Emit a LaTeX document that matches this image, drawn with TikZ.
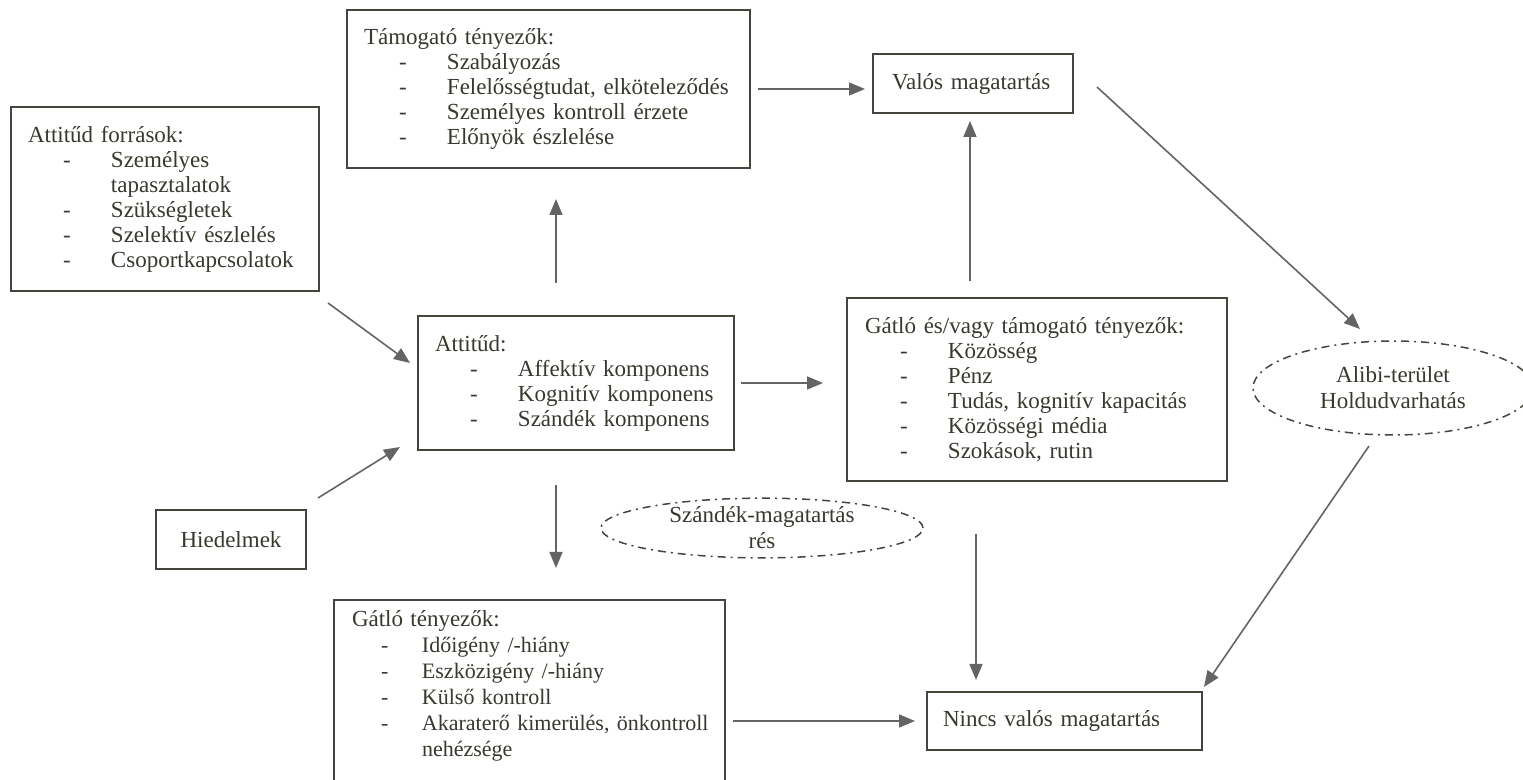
\documentclass[tikz,border=0pt]{standalone}
\usepackage{fontspec}
\setmainfont{Liberation Serif}
\usetikzlibrary{arrows.meta,shapes.geometric}
\definecolor{boxline}{HTML}{45453D}
\definecolor{txt}{HTML}{38382F}
\definecolor{arrline}{HTML}{646464}
\newlength\dashin \setlength\dashin{17.5pt}
\newlength\txtin  \setlength\txtin{41.5pt}
\newcommand\itm[1]{\\\hspace*{\dashin}\makebox[\dimexpr\txtin-\dashin\relax][l]{-}\mbox{#1}}
\newcommand\cnt[1]{\\\hspace*{\txtin}\mbox{#1}}
\tikzset{
  box/.style={draw=boxline, line width=1pt, anchor=north west, align=left, text=txt,
    inner xsep=8.5pt, inner ysep=0pt, outer sep=0pt, font=\fontsize{11.5pt}{12.5pt}\selectfont},
  oval/.style={draw=boxline, ellipse, line width=0.75pt, align=center, text=txt,
    dash pattern=on 4pt off 2.5pt on 1pt off 2.5pt, inner sep=0pt, outer sep=0pt,
    font=\fontsize{11.5pt}{13pt}\selectfont},
  arr/.style={draw=arrline, line width=0.8pt, -{Triangle[length=8pt,width=6.5pt]}}
}
\begin{document}
\begin{tikzpicture}[x=0.5pt,y=-0.5pt]
\useasboundingbox (0,0) rectangle (1523,780);
% boxes
\node[box, text width=184.5pt, minimum height=79pt] (tamogato) at (347,10)
  {Támogató tényezők:\itm{Szabályozás}\itm{Felelősségtudat, elköteleződés}\itm{Személyes kontroll érzete}\itm{Előnyök észlelése}};
\node[box, inner xsep=9.5pt, text width=81pt, minimum height=29.5pt] (valos) at (873,54) {Valós magatartás};
\node[box, text width=137pt, minimum height=92pt] (forrasok) at (11,107)
  {Attitűd források:\itm{Személyes}\cnt{tapasztalatok}\itm{Szükségletek}\itm{Szelektív észlelés}\itm{Csoportkapcsolatok}};
\node[box, text width=141pt, minimum height=67pt] (attitud) at (418,316)
  {Attitűd:\itm{Affektív komponens}\itm{Kognitív komponens}\itm{Szándék komponens}};
\node[box, inner xsep=9pt, text width=172pt, minimum height=91.5pt] (gatlotam) at (847,298)
  {Gátló és/vagy támogató tényezők:\itm{Közösség}\itm{Pénz}\itm{Tudás, kognitív kapacitás}\itm{Közösségi média}\itm{Szokások, rutin}};
\node[box, align=center, inner xsep=8pt, text width=59pt, minimum height=29.5pt] (hiedelmek) at (156,510) {Hiedelmek};
\node[box, inner xsep=9pt, inner ysep=5.5pt, text width=177.5pt, text depth=86pt,
  font=\fontsize{11pt}{13pt}\selectfont] (gatlo) at (334,600)
  {\setlength\dashin{14.5pt}\setlength\txtin{35pt}%
   {\fontsize{11.5pt}{13pt}\selectfont Gátló tényezők:}\itm{Időigény /-hiány}\itm{Eszközigény /-hiány}\itm{Külső kontroll}\itm{Akaraterő kimerülés, önkontroll}\cnt{nehézsége}};
\node[box, inner xsep=8pt, text width=121.5pt, minimum height=29pt] (nincs) at (927,692) {Nincs valós magatartás};
% ovals
\node[oval, minimum width=161pt, minimum height=28pt] (res) at (762,528) {Szándék-magatartás\\rés};
\node[oval, minimum width=140pt, minimum height=47pt] (alibi) at (1393,388) {Alibi-terület\\Holdudvarhatás};
% arrows
\draw[arr, shorten <=4pt, shorten >=4pt] (tamogato) -- (tamogato -| valos.west);
\draw[arr, shorten <=16.5pt, shorten >=15.5pt] ([xshift=-10pt]attitud.north) -- ([xshift=-10pt]attitud.north |- tamogato.south);
\draw[arr] ([xshift=4.5pt,yshift=-6pt]forrasok.south east) -- ([xshift=-4pt,yshift=10pt]attitud.west);
\draw[arr] ([xshift=6pt,yshift=6pt]hiedelmek.north east) -- ([xshift=-9pt,yshift=1.5pt]attitud.south west);
\draw[arr, shorten <=3.5pt, shorten >=12pt] (attitud.east) -- (attitud.east -| gatlotam.west);
\draw[arr, shorten <=17.5pt, shorten >=16pt] ([xshift=-10pt]attitud.south) -- ([xshift=-10pt]attitud.south |- gatlo.north);
\draw[arr, shorten <=8.5pt, shorten >=4pt] ([xshift=-33.5pt]gatlotam.north) -- ([xshift=-33.5pt]gatlotam.north |- valos.south);
\draw[arr] ([xshift=12pt,yshift=-1.75pt]valos.east) -- ([xshift=-16.5pt,yshift=6pt]alibi.north);
\draw[arr, shorten <=26.5pt, shorten >=6pt] ([xshift=-30.5pt]gatlotam.south) -- ([xshift=-30.5pt]gatlotam.south |- nincs.north);
\draw[arr] ([xshift=-12pt,yshift=-5.5pt]alibi.south) -- ([xshift=1pt,yshift=2.5pt]nincs.north east);
\draw[arr, shorten <=4pt, shorten >=6pt] (nincs.west -| gatlo.east) -- (nincs.west);
\end{tikzpicture}
\end{document}
